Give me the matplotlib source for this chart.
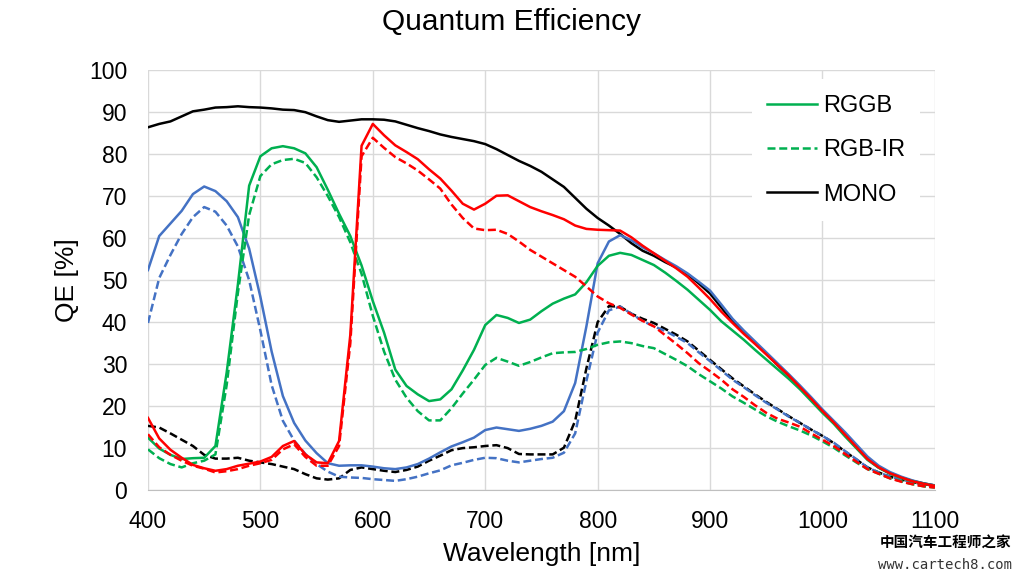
import matplotlib
matplotlib.use("Agg")
import matplotlib.pyplot as plt

plt.rcParams['font.family'] = ['Liberation Sans', 'DejaVu Sans']

wavelength = list(range(400, 1101, 10))

mono = [86.4, 87.2, 87.8, 89.0, 90.2, 90.6, 91.1, 91.2, 91.4, 91.2, 91.1, 90.9, 90.6, 90.5, 90.0,
        89.0, 88.1, 87.7, 88.0, 88.3, 88.3, 88.2, 87.8, 87.0, 86.2, 85.5, 84.7, 84.1, 83.6, 83.1,
        82.4, 81.2, 79.8, 78.4, 77.2, 75.8, 74.0, 72.2, 69.6, 67.0, 64.8, 63.0, 61.0, 58.8, 57.0,
        55.8, 54.3, 53.0, 51.4, 49.2, 46.8, 43.5, 40.2, 37.6, 35.0, 32.5, 29.8, 27.2, 24.4, 21.6,
        18.6, 16.0, 13.2, 10.2, 7.4, 5.4, 4.0, 3.0, 2.2, 1.6, 1.1]

rggb_b = [52.4, 60.5, 63.5, 66.5, 70.5, 72.3, 71.2, 68.8, 65.0, 57.5, 46.0, 33.0, 22.4, 16.0, 11.8,
          8.8, 6.4, 5.8, 5.9, 5.9, 5.6, 5.2, 5.0, 5.4, 6.2, 7.5, 9.0, 10.4, 11.4, 12.5,
          14.3, 14.9, 14.5, 14.1, 14.6, 15.3, 16.3, 18.8, 25.5, 39.0, 54.0, 59.2, 60.7, 59.5, 57.8,
          56.4, 54.8, 53.3, 51.6, 49.6, 47.5, 44.2, 40.8, 38.0, 35.4, 32.8, 30.2, 27.6, 24.9, 22.1,
          19.2, 16.5, 13.8, 10.9, 8.0, 5.8, 4.3, 3.2, 2.3, 1.6, 1.1]

rgbir_b = [39.8, 50.5, 56.0, 61.0, 65.0, 67.4, 66.3, 63.0, 58.0, 50.0, 38.0, 25.0, 16.5, 11.8, 8.6,
           6.2, 4.4, 3.2, 3.0, 2.9, 2.6, 2.4, 2.2, 2.6, 3.2, 4.0, 4.7, 5.9, 6.5, 7.2,
           7.7, 7.6, 7.0, 6.6, 7.0, 7.4, 7.7, 8.9, 13.5, 26.0, 37.5, 42.8, 43.7, 42.0, 40.3,
           39.0, 37.9, 36.5, 35.0, 32.8, 30.7, 28.5, 26.3, 24.5, 22.6, 20.8, 19.2, 17.5, 16.0, 14.4,
           12.9, 11.3, 9.3, 7.4, 5.4, 4.2, 3.2, 2.5, 1.8, 1.3, 1.0]

rgbir_ir = [15.3, 14.9, 13.5, 12.0, 10.5, 8.4, 7.5, 7.5, 7.7, 7.0, 6.6, 6.2, 5.6, 5.0, 3.8,
            2.8, 2.5, 2.8, 4.8, 5.4, 5.0, 4.6, 4.3, 4.8, 5.6, 7.0, 8.2, 9.5, 10.0, 10.2,
            10.5, 10.7, 10.0, 8.6, 8.5, 8.5, 8.5, 10.1, 16.5, 29.0, 40.0, 43.8, 43.7, 42.0, 40.8,
            39.8, 38.4, 37.0, 35.4, 33.2, 31.0, 28.8, 26.6, 24.7, 22.8, 21.0, 19.3, 17.6, 16.0, 14.4,
            12.9, 11.2, 9.2, 7.3, 5.4, 4.2, 3.2, 2.5, 1.9, 1.4, 1.1]

rggb_g = [12.5, 9.9, 8.4, 7.4, 7.6, 7.7, 10.5, 28.0, 49.0, 72.5, 79.5, 81.4, 81.9, 81.4, 80.2,
          76.9, 71.5, 65.8, 60.5, 53.5, 45.0, 37.5, 28.7, 24.8, 22.8, 21.2, 21.6, 24.0, 28.5, 33.4,
          39.3, 41.7, 41.0, 39.8, 40.6, 42.6, 44.4, 45.6, 46.6, 49.5, 53.4, 55.8, 56.5, 56.0, 54.8,
          53.6, 51.8, 49.8, 47.7, 45.3, 42.9, 40.2, 38.0, 35.8, 33.4, 31.1, 28.8, 26.5, 24.0, 21.2,
          18.4, 15.8, 12.8, 10.0, 7.2, 5.3, 3.9, 2.9, 2.1, 1.5, 1.0]

rgbir_g = [9.7, 7.6, 6.2, 5.4, 6.4, 7.0, 8.5, 25.0, 47.0, 65.5, 74.8, 77.6, 78.6, 78.9, 77.9,
           74.5, 70.0, 65.0, 59.0, 51.5, 41.5, 33.0, 26.3, 22.0, 18.8, 16.6, 16.6, 19.5, 23.0, 26.3,
           29.8, 31.5, 30.6, 29.6, 30.5, 31.6, 32.6, 32.8, 32.9, 33.6, 34.6, 35.2, 35.4, 35.0, 34.3,
           33.8, 32.4, 31.0, 29.5, 27.6, 25.9, 24.2, 22.3, 20.8, 19.2, 17.6, 16.3, 15.2, 14.2, 13.0,
           11.6, 10.1, 8.3, 6.6, 5.0, 3.9, 2.8, 2.1, 1.4, 0.9, 0.6]

rggb_r = [17.2, 12.3, 9.6, 7.7, 6.0, 5.2, 4.6, 5.0, 5.8, 6.3, 6.8, 7.9, 10.5, 11.7, 8.5,
          6.6, 6.4, 11.7, 37.0, 82.0, 87.2, 84.5, 82.1, 80.5, 78.8, 76.4, 74.2, 71.3, 68.2, 66.8,
          68.2, 70.1, 70.2, 68.8, 67.4, 66.4, 65.5, 64.5, 63.0, 62.2, 62.0, 61.9, 61.8, 60.2, 58.2,
          56.4, 54.6, 52.8, 50.8, 48.2, 45.5, 42.5, 39.8, 37.2, 34.8, 32.3, 29.8, 27.3, 24.5, 21.7,
          18.8, 16.1, 13.2, 10.3, 7.4, 5.4, 4.0, 3.0, 2.1, 1.5, 1.0]

rgbir_r = [13.3, 10.2, 8.4, 7.0, 5.8, 5.1, 4.2, 4.5, 5.0, 5.8, 6.4, 7.2, 9.7, 10.9, 7.9,
           5.8, 5.8, 10.5, 35.0, 79.5, 83.9, 81.5, 79.3, 77.8, 76.1, 74.0, 71.8, 68.0, 64.8, 62.3,
           61.9, 62.0, 61.0, 59.2, 57.2, 55.6, 54.0, 52.4, 50.8, 48.5, 46.1, 44.5, 43.4, 41.8, 40.3,
           39.0, 36.9, 34.8, 32.6, 30.2, 28.3, 26.3, 24.0, 22.2, 20.2, 18.4, 17.0, 16.1, 15.1, 13.5,
           12.0, 10.5, 8.6, 6.8, 5.0, 3.9, 2.8, 2.0, 1.4, 0.9, 0.6]

BLUE = '#4472C4'
GREEN = '#00B050'
RED = '#FF0000'
dash = (0, (3.2, 1.5))

fig = plt.figure(figsize=(10.24, 5.8), dpi=100)
ax = fig.add_axes([0.1445, 0.155, 0.7685, 0.724])

lw = 1.8
ax.plot(wavelength, mono, color='black', lw=lw, zorder=3)
ax.plot(wavelength, rgbir_ir, color='black', lw=lw, ls=dash, zorder=3)
ax.plot(wavelength, rggb_b, color=BLUE, lw=lw, zorder=3)
ax.plot(wavelength, rgbir_b, color=BLUE, lw=lw, ls=dash, zorder=3)
ax.plot(wavelength, rggb_g, color=GREEN, lw=lw, zorder=3)
ax.plot(wavelength, rgbir_g, color=GREEN, lw=lw, ls=dash, zorder=3)
ax.plot(wavelength, rggb_r, color=RED, lw=lw, zorder=3)
ax.plot(wavelength, rgbir_r, color=RED, lw=lw, ls=dash, zorder=3)

ax.set_xlim(400, 1100)
ax.set_ylim(0, 100)
ax.set_xticks(range(400, 1101, 100))
ax.set_yticks(range(0, 101, 10))
ax.grid(True, color='#d9d9d9', lw=1)
ax.set_axisbelow(True)
for s in ['top', 'right', 'left']:
    ax.spines[s].set_visible(False)
ax.spines['bottom'].set_color('#bfbfbf')
ax.tick_params(length=0, labelsize=16.5)
ax.tick_params(axis='y', pad=15)
ax.tick_params(axis='x', pad=14)

ax.set_xlabel('Wavelength [nm]', fontsize=19, labelpad=7)
ax.set_ylabel('QE [%]', fontsize=19, labelpad=7)
fig.text(0.5, 0.962, 'Quantum Efficiency', ha='center', va='center', fontsize=21.5)

h1, = ax.plot([], [], color=GREEN, lw=lw)
h2, = ax.plot([], [], color=GREEN, lw=lw, ls=dash)
h3, = ax.plot([], [], color='black', lw=lw)
leg = ax.legend([h1, h2, h3], ['RGGB', 'RGB-IR', 'MONO'], loc='upper left',
                bbox_to_anchor=(0.7675, 0.978), frameon=True, fontsize=17,
                handlelength=2.1, handletextpad=0.25, labelspacing=0.95,
                borderpad=0.65, borderaxespad=0)
leg.get_frame().set_edgecolor('none')
leg.get_frame().set_facecolor('white')
leg.get_frame().set_alpha(1)

fig.text(0.923, 0.064, '中国汽车工程师之家', ha='center', va='center', fontsize=10.5,
         weight='bold', family=['Noto Sans CJK SC', 'DejaVu Sans'])
fig.text(0.923, 0.026, 'www.cartech8.com', ha='center', va='center', fontsize=10,
         family=['DejaVu Sans Mono'], color='#333333')

fig.savefig('out.png', dpi=100)
